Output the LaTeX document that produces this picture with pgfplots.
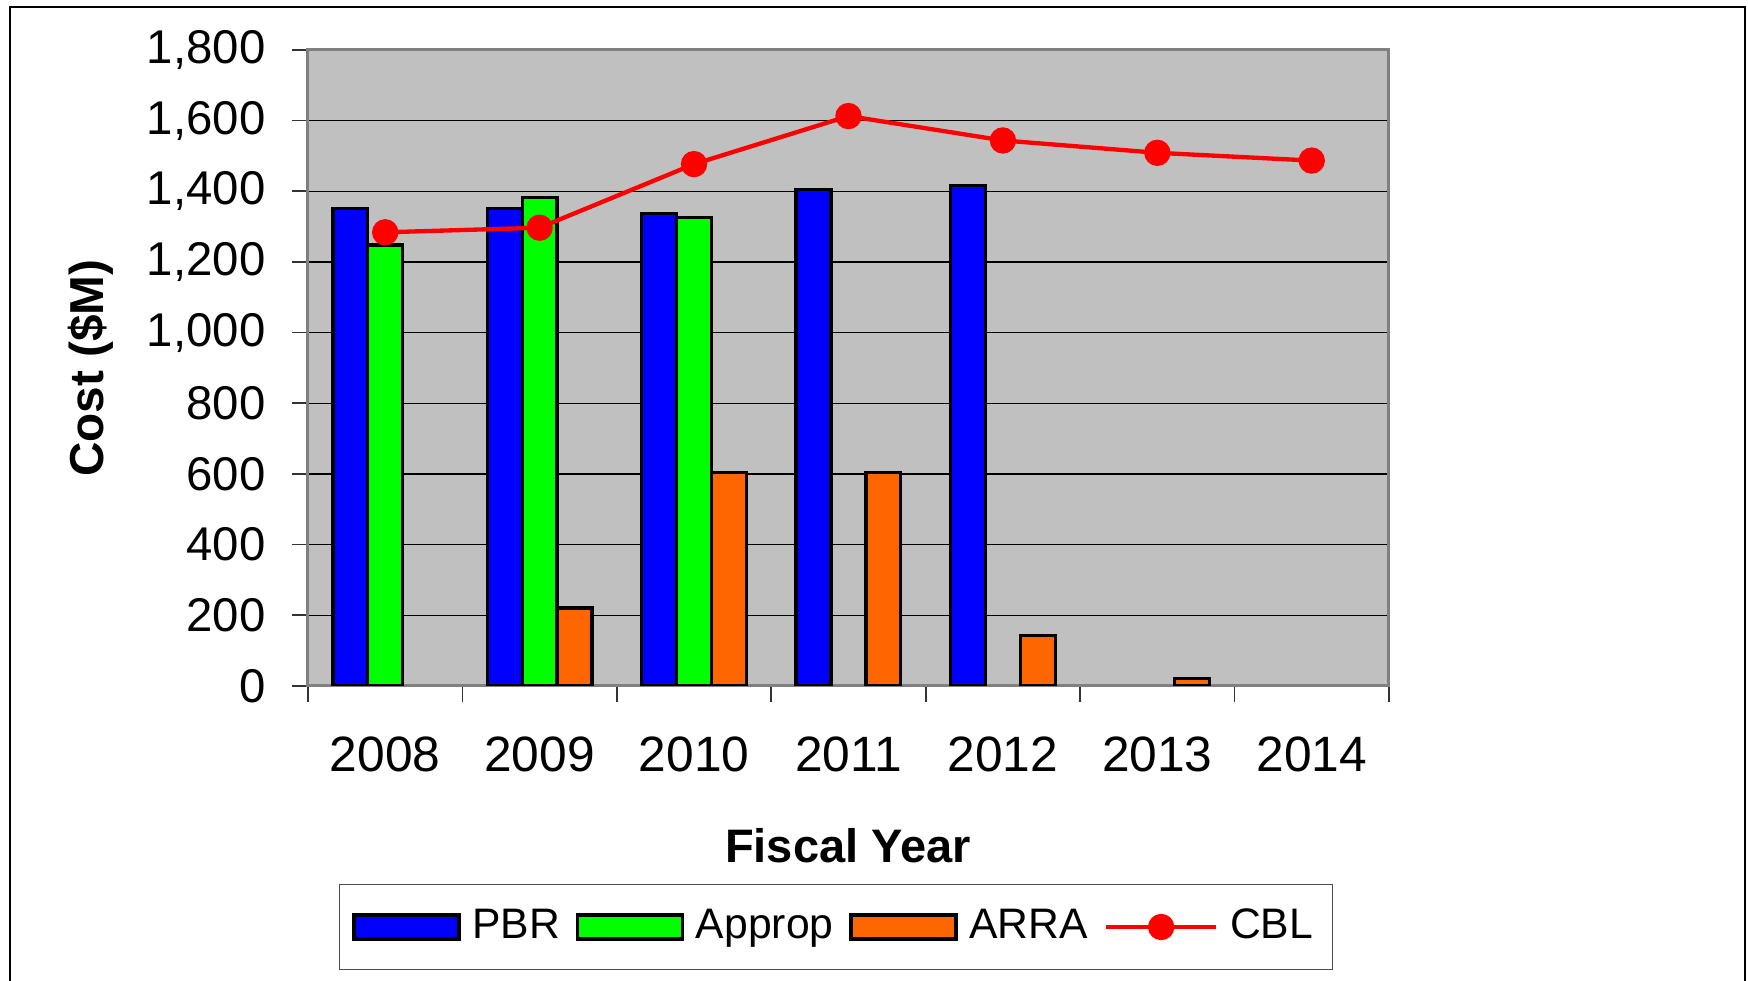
\documentclass[border=0pt]{standalone}
\usepackage{fontspec}
\setmainfont{Liberation Sans}
\usepackage{pgfplots}
\pgfplotsset{compat=1.18}
\definecolor{plotgray}{HTML}{C0C0C0}
\definecolor{barblue}{HTML}{0000FF}
\definecolor{bargreen}{HTML}{00FF00}
\definecolor{barorange}{HTML}{FF6600}
\definecolor{cblred}{HTML}{FF0000}
\definecolor{spine}{HTML}{808080}
\pgfplotsset{
  barleg/.style={legend image code/.code={\draw[##1] (0pt,-3.6pt) rectangle (31.5pt,3.6pt);}},
  lineleg/.style={legend image code/.code={\draw[mark repeat=2,mark phase=2,##1] plot coordinates {(0pt,0pt) (16.5pt,0pt) (33pt,0pt)};}},
}
\begin{document}
\fontsize{13.4}{16}\selectfont
\begin{tikzpicture}[x=0.3pt,y=0.3pt]
\useasboundingbox (0,0) rectangle (1748,981);
\draw[line width=0.55pt, black] (10,-30) rectangle (1745,974);
\begin{axis}[
  at={(92.4pt,88.5pt)}, anchor=south west,
  scale only axis, width=324.3pt, height=190.8pt,
  xmin=-0.5, xmax=6.5, ymin=0, ymax=1800,
  xtick={-0.5,0.5,...,6.5}, xticklabels={},
  extra x ticks={0,1,2,3,4,5,6},
  extra x tick labels={2008,2009,2010,2011,2012,2013,2014},
  extra x tick style={major tick length=0pt, grid=none,
     xticklabel style={anchor=north, yshift=-10.6pt, font=\fontsize{14.9}{18}\selectfont}},
  ytick={0,200,...,1800},
  tick align=outside, major tick length=4.8pt,
  tick style={black!80, line width=0.5pt},
  xtick pos=bottom, ytick pos=left,
  ymajorgrids, major grid style={black, line width=0.4pt},
  axis background/.style={fill=plotgray},
  axis line style={draw=spine, line width=0.9pt},
  /pgf/number format/assume math mode=true,
  /pgf/number format/1000 sep={,},
  yticklabel style={xshift=-3.3pt, font=\fontsize{14.2}{17}\selectfont},
  ylabel={\bfseries Cost (\$M)},
  ylabel style={at={(axis description cs:-0.2007,0.5)}, anchor=center, font=\fontsize{14.3}{17}\selectfont},
  xlabel={\bfseries Fiscal Year},
  xlabel style={at={(axis description cs:0.4995,-0.2516)}, anchor=center, font=\fontsize{14.1}{17}\selectfont},
  legend columns=4,
  legend style={at={(axis description cs:0.4884,-0.379)}, anchor=center,
     draw=black!70, line width=0.5pt, fill=white, inner xsep=3.8pt, inner ysep=5.3pt,
     /tikz/every odd column/.append style={column sep=1.5pt},
     /tikz/every even column/.append style={column sep=2.8pt},
     font=\fontsize{12.8}{15}\selectfont},
]
\addplot[ybar, bar width=0.226, bar shift=-0.226, fill=barblue, draw=black, line width=1pt, barleg]
  coordinates {(0,1351) (1,1351) (2,1338) (3,1405) (4,1417)};
\addlegendentry{PBR}
\addplot[ybar, bar width=0.226, bar shift=0, fill=bargreen, draw=black, line width=1pt, barleg]
  coordinates {(0,1248) (1,1382) (2,1325)};
\addlegendentry{Approp}
\addplot[ybar, bar width=0.226, bar shift=0.226, fill=barorange, draw=black, line width=1pt, barleg]
  coordinates {(1,221) (2,604) (3,604) (4,142) (5,22)};
\addlegendentry{ARRA}
\addplot[sharp plot, cblred, line width=1.3pt, mark=*, mark size=3.3pt, mark options={fill=cblred, draw=cblred}, lineleg]
  coordinates {(0,1284) (1,1297) (2,1477) (3,1613) (4,1544) (5,1509) (6,1487)};
\addlegendentry{CBL}
\end{axis}
\end{tikzpicture}
\end{document}
